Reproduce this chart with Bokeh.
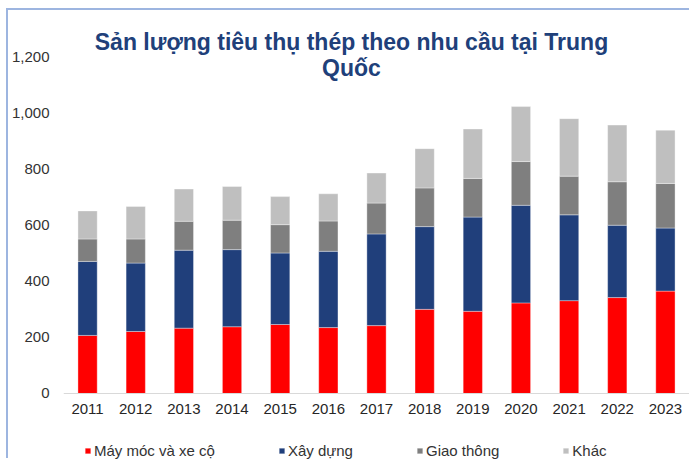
from bokeh.plotting import figure
from bokeh.models import (FactorRange, Range1d, FixedTicker, NumeralTickFormatter,
                          Label, Legend, LegendItem, ColumnDataSource)
from bokeh.embed import file_html
from bokeh.resources import INLINE

years = ["2011", "2012", "2013", "2014", "2015", "2016", "2017",
         "2018", "2019", "2020", "2021", "2022", "2023"]
may_moc = [207, 221, 233, 238, 246, 235, 242, 300, 293, 323, 331, 342, 365]
xay_dung = [264, 244, 278, 275, 255, 272, 327, 295, 336, 348, 306, 258, 225]
giao_thong = [80, 86, 103, 105, 101, 108, 110, 138, 138, 156, 138, 155, 159]
khac = [100, 116, 115, 120, 100, 97, 107, 140, 176, 196, 205, 202, 190]

series = ["may_moc", "xay_dung", "giao_thong", "khac"]
labels = ["Máy móc và xe cộ", "Xây dựng", "Giao thông", "Khác"]
colors = ["#FF0000", "#203F7B", "#7F7F7F", "#BFBFBF"]
y_ticks = [0, 200, 400, 600, 800, 1000, 1200]
title_lines = ["Sản lượng tiêu thụ thép theo nhu cầu tại Trung", "Quốc"]

source = ColumnDataSource(dict(years=years, may_moc=may_moc, xay_dung=xay_dung,
                               giao_thong=giao_thong, khac=khac))

FONT = "Liberation Sans"

# the frame extends below zero so the year axis (fixed at 0) and legend sit inside it
p = figure(x_range=FactorRange(*years), y_range=Range1d(-239, 1330),
           width=683, height=450, output_backend="svg", toolbar_location=None,
           min_border_left=55, min_border_right=2, min_border_top=10,
           min_border_bottom=0)
p.styles = {"margin-left": "6px", "margin-top": "8px",
            "border-left": "2px solid #9DB5E0", "border-top": "2px solid #9DB5E0"}

renderers = p.vbar_stack(series, x="years", width=0.4, color=colors,
                         line_color="white", line_width=0.6, line_alpha=0.6,
                         source=source)

p.xgrid.grid_line_color = None
p.ygrid.grid_line_color = None
p.outline_line_color = None
p.background_fill_color = "white"
p.border_fill_color = "white"

yax = p.yaxis[0]
yax.ticker = FixedTicker(ticks=y_ticks)
yax.formatter = NumeralTickFormatter(format="0,0")
yax.axis_line_color = None
yax.major_tick_line_color = None
yax.minor_tick_line_color = None
yax.major_tick_out = 0
yax.major_tick_in = 0
yax.major_label_standoff = 14
yax.major_label_text_font = FONT
yax.major_label_text_font_size = "15px"
yax.major_label_text_color = "#333333"

xax = p.xaxis[0]
xax.fixed_location = 0
xax.axis_line_color = "#D9D9D9"
xax.axis_line_width = 1.2
xax.major_tick_line_color = None
xax.minor_tick_line_color = None
xax.major_tick_out = 0
xax.major_tick_in = 0
xax.major_label_standoff = 11
xax.major_label_text_font = FONT
xax.major_label_text_font_size = "15px"
xax.major_label_text_color = "#262626"

for i, line in enumerate(title_lines):
    p.add_layout(Label(x=288, y=419 - i * 26.5, x_units="screen", y_units="screen",
                       text=line, text_align="center", text_baseline="alphabetic",
                       text_font=FONT, text_font_size="23px", text_font_style="bold",
                       text_color="#20407A"))

legend = Legend(items=[LegendItem(label=l, renderers=[r]) for l, r in zip(labels, renderers)],
                orientation="horizontal", location=(21, 0),
                glyph_width=7, glyph_height=7, label_standoff=3, spacing=63,
                label_height=20, padding=0, margin=0, border_line_color=None,
                background_fill_alpha=0,
                label_text_font=FONT, label_text_font_size="15px",
                label_text_color="#333333")
p.add_layout(legend, "center")

open("out.html", "w").write(file_html(p, INLINE))
